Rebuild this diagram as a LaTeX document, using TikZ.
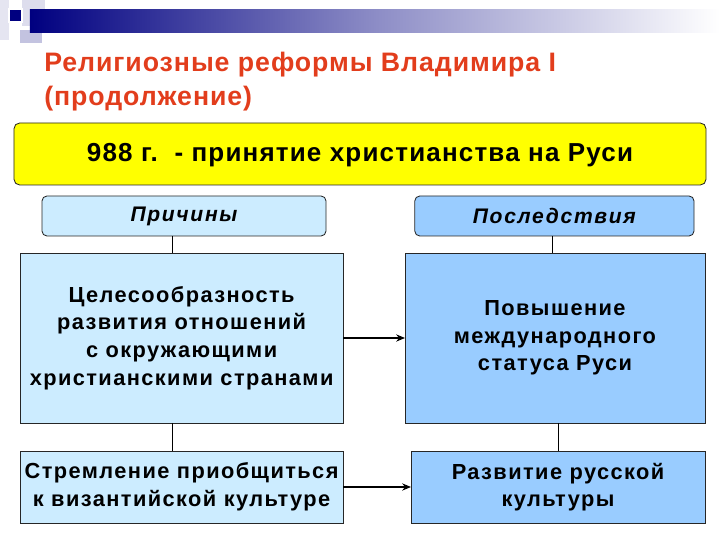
\documentclass[tikz,border=0pt]{standalone}
\usepackage{fontspec}
\setmainfont{Liberation Sans}
\newfontfamily\titlefont[LetterSpace=3.5]{Liberation Sans}
\newfontfamily\headfont[LetterSpace=4.5]{Liberation Sans}
\newfontfamily\tagfont[LetterSpace=8]{Liberation Sans}
\newfontfamily\boxfont[LetterSpace=6.5]{Liberation Sans}
\usepackage{xcolor}
\usepackage{tikz}
\usetikzlibrary{arrows.meta,positioning,calc}
\definecolor{navy}{HTML}{000080}
\definecolor{deco}{HTML}{B4B4D8}
\definecolor{titleC}{HTML}{E23D1C}
\definecolor{gold}{HTML}{FFFF00}
\definecolor{causeL}{HTML}{CCECFF}
\definecolor{effL}{HTML}{99CCFF}
\newcommand{\lblTitle}{Религиозные реформы Владимира I\\(продолжение)}
\newcommand{\lblEvent}{988 г.\ \ - принятие христианства на Руси}
\newcommand{\lblWhy}{Причины}
\newcommand{\lblThen}{Последствия}
\newcommand{\lblCauseA}{Целесообразность\\ развития отношений\\с окружающими\\христианскими странами}
\newcommand{\lblCauseB}{Стремление приобщиться\\к византийской культуре}
\newcommand{\lblEffA}{Повышение\\международного\\статуса Руси}
\newcommand{\lblEffB}{Развитие русской\\культуры}

\begin{document}
\begin{tikzpicture}[
  font=\bfseries,
  >={Stealth[length=2.2mm,width=1.8mm]},
  box/.style    ={draw=black!85, line width=0.6pt, inner sep=2pt, outer sep=0pt,
                  align=center, font=\boxfont\fontsize{15.5}{19.6}\selectfont\bfseries},
  head/.style   ={box, fill=gold, rounded corners=4pt, minimum width=17.3cm,
                  minimum height=1.55cm, font=\headfont\fontsize{18.5}{22}\selectfont\bfseries},
  tag/.style    ={box, rounded corners=3.5pt, minimum height=1cm,
                  font=\tagfont\fontsize{15}{18}\selectfont\bfseries\itshape},
  cause/.style  ={box, fill=causeL, minimum width=8.08cm},
  effect/.style ={box, fill=effL},
  link/.style   ={draw=black, line width=0.6pt},
  flow/.style   ={->, draw=black, line width=0.9pt},
]
\useasboundingbox (0,0) rectangle (18,13.5);

% ---- slide decoration ------------------------------------------------------
\begin{scope}[shift={(0,13.5)}, x=0.025cm, y=-0.025cm]
  \fill[deco!35] (0,0) rectangle (9,40);
  \fill[deco!45] (22,0) rectangle (45,26);
  \fill[deco!80] (20,30) rectangle (42,43);
  \shade[left color=navy, right color=white, middle color=navy!45]
    (30,10) rectangle (720,33);
  \fill[white] (8,8) rectangle (23,23);
  \fill[navy] (10,10) rectangle (21,21);
\end{scope}

% ---- title -----------------------------------------------------------------
\node[anchor=north west, align=left, text=titleC, inner sep=0pt,
      font=\titlefont\fontsize{19}{24}\selectfont\bfseries] (title) at (1.1,12.2) {\lblTitle};

% ---- geometry --------------------------------------------------------------
\def\rowA{9.65}   % event
\def\rowB{8.1}    % headings
\def\rowC{5.05}   % first pair
\def\rowD{1.325}  % second pair
\coordinate (lineL) at (4.3,0);
\coordinate (lineR) at (13.8,0);

\node[head, text depth=0.5ex] (event) at (9,\rowA) {\lblEvent};
\node[tag, fill=causeL, minimum width=7.1cm, text depth=0.4ex]  (why)  at (4.6,\rowB)   {\lblWhy};
\node[tag, fill=effL,   minimum width=6.98cm] (then) at (13.86,\rowB) {\lblThen};

\node[cause, minimum height=4.25cm] (causeA) at (4.54,\rowC) {\lblCauseA};
\node[effect, minimum width=7.5cm, minimum height=4.25cm] (effA) at (13.875,\rowC) {\lblEffA};
\node[cause, minimum height=1.8cm] (causeB) at (4.54,\rowD) {\lblCauseB};
\node[effect, minimum width=7.35cm, minimum height=1.8cm] (effB) at (13.95,\rowD) {\lblEffB};

% ---- connectors ------------------------------------------------------------
\draw[link] (why.south -| lineL) -- (causeA.north -| lineL);
\draw[link] (causeA.south -| lineL) -- (causeB.north -| lineL);
\draw[link] (then.south -| lineR) -- (effA.north -| lineR);
\draw[link] (effA.south -| effB.north) -- (effB.north);

\draw[flow] (causeA) -- (effA);
\draw[flow] (causeB) -- (effB);

\end{tikzpicture}
\end{document}
